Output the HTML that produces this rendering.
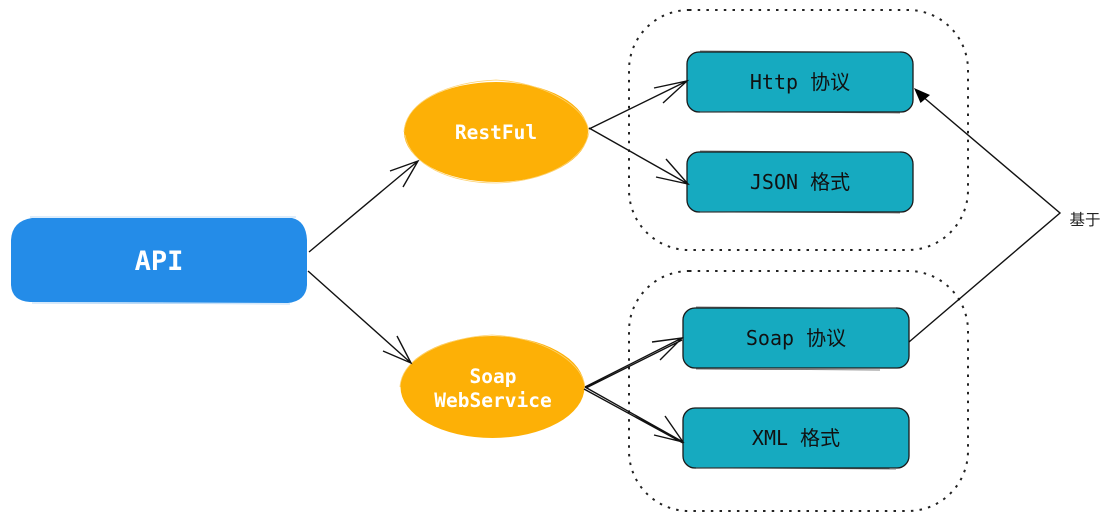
<!DOCTYPE html>
<html>
<head>
<meta charset="utf-8">
<style>
html,body{margin:0;padding:0;background:#fff;width:1112px;height:521px;overflow:hidden}
svg{display:block}
.m{font-family:"DejaVu Sans Mono","Liberation Mono","Noto Sans CJK SC",monospace;text-anchor:middle}
.l{font-size:20px;fill:#111}
.w{font-size:19.500px;font-weight:bold;fill:#fff}
.e{fill:#fdb006}
.b{fill:#16aac0;stroke:#1a1a1a;stroke-width:1.3}
.s{fill:none;stroke:#555;stroke-width:.7}
.c{fill:none;stroke:#111;stroke-width:1.400}
.d{fill:none;stroke:#222;stroke-width:2;stroke-dasharray:2.500 6.200}
</style>
</head>
<body>
<svg width="1112" height="521" viewBox="0 0 1112 521" xmlns="http://www.w3.org/2000/svg">
<rect class="d" x="629" y="10" width="339" height="240" rx="60"/>
<rect class="d" x="629" y="271" width="339" height="240" rx="60"/>

<path d="M11 240Q12 221 32 218L292 218Q306 221 307 240L307 285Q306 301 288 303L30 302Q12 301 11 285Z" fill="#248ce8"/>
<path d="M30 217L296 217M32 303L290 304" stroke="#a8d0f5" stroke-width=".8" fill="none"/>
<text class="m" x="159" y="270" font-size="27" font-weight="bold" fill="#fff">API</text>

<ellipse class="e" cx="496" cy="132" rx="92" ry="50"/>
<path d="M404 132C406 100 450 82 496 80C540 82 586 105 589 132" fill="none" stroke="#fdd270" stroke-width=".8"/>
<path d="M405 135C410 165 450 183 496 183C545 182 585 160 589 132" fill="none" stroke="#fdd270" stroke-width=".8"/>
<text class="m w" x="496" y="139">RestFul</text>

<ellipse class="e" cx="492.500" cy="387" rx="92" ry="51"/>
<path d="M400 387C402 355 450 337 492 335C540 337 582 360 585 387" fill="none" stroke="#fdd270" stroke-width=".8"/>
<text class="m w" x="493" y="383">Soap</text>
<text class="m w" x="493" y="407">WebService</text>

<rect class="b" x="687" y="52" width="226" height="60" rx="12"/>
<path class="s" d="M700 51L900 52M700 112L900 113"/>
<text class="m l" x="800" y="89">Http 协议</text>
<rect class="b" x="687" y="152" width="226" height="60" rx="12"/>
<path class="s" d="M700 151L900 152M700 212L900 213"/>
<text class="m l" x="800" y="189">JSON 格式</text>
<rect class="b" x="683" y="308" width="226" height="60" rx="12"/>
<path class="s" d="M696 307L896 308M696 369L880 370"/>
<text class="m l" x="796" y="345">Soap 协议</text>
<rect class="b" x="683" y="408" width="226" height="60" rx="12"/>
<path class="s" d="M696 468L896 469"/>
<text class="m l" x="796" y="445">XML 格式</text>

<g class="c">
<path d="M309 252L418 161M390 171L418 161L403 187"/>
<path d="M308 271L411 363M383 351L411 363L397 336"/>
<path d="M589 129L687 81M654 88L687 81L663 103"/>
<path d="M589 128L688 184M666 159L688 184L656 177"/>
<path d="M585 387L682 338M586 388L682 340M652 342L682 338L660 360"/>
<path d="M585 387L683 442M584 389L683 443M665 416L683 442L654 435"/>
<path d="M909 342L1060 213L922 96"/>
</g>
<polygon points="914,88 930,95 920.500,103" fill="#000"/>
<text x="1085" y="225" text-anchor="middle" font-size="15.500" fill="#222" font-family="'Noto Sans CJK SC','WenQuanYi Zen Hei',sans-serif">基于</text>
</svg>
</body>
</html>
